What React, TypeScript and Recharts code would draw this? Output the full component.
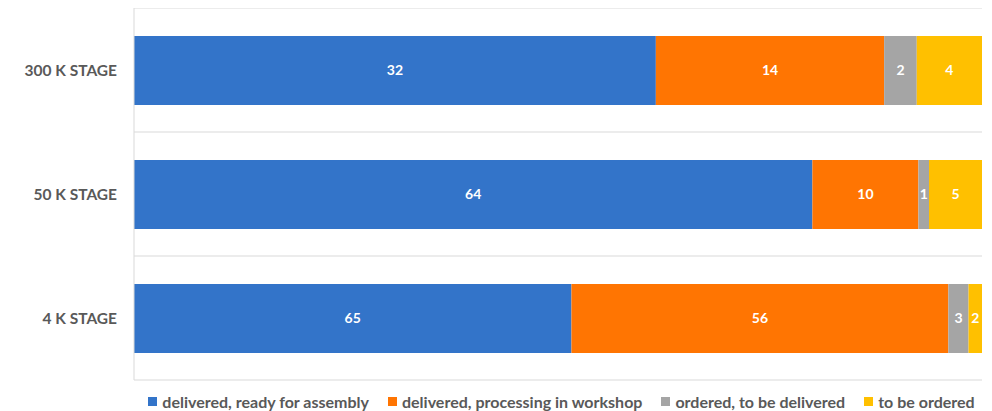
import React from "react";
import { BarChart, Bar, XAxis, YAxis, CartesianGrid, Legend, LabelList } from "recharts";

const categories = ["300 K STAGE", "50 K STAGE", "4 K STAGE"];
const readyForAssembly = [32, 64, 65];
const processingInWorkshop = [14, 10, 56];
const toBeDelivered = [2, 1, 3];
const toBeOrdered = [4, 5, 2];

const seriesNames = [
  "delivered, ready for assembly",
  "delivered, processing in workshop",
  "ordered, to be delivered",
  "to be ordered",
];
const colors = ["#3374C9", "#FF7502", "#A5A5A5", "#FFC000"];

const data = categories.map((c, i) => ({
  name: c,
  a: readyForAssembly[i],
  b: processingInWorkshop[i],
  c: toBeDelivered[i],
  d: toBeOrdered[i],
}));

const FONT = "Lato, 'Open Sans', sans-serif";

const renderLegend = () => (
  <div style={{ display: "flex", justifyContent: "center", gap: 19, fontFamily: FONT, fontWeight: 700, fontSize: 16, color: "#595959", paddingLeft: 131 }}>
    {seriesNames.map((n, i) => (
      <div key={n} style={{ display: "flex", alignItems: "center" }}>
        <span style={{ display: "inline-block", width: 9, height: 9, background: colors[i], marginRight: 5 }} />
        <span>{n}</span>
      </div>
    ))}
  </div>
);

export default function App() {
  const keys = ["a", "b", "c", "d"];
  return (
    <div style={{ marginLeft: -8, marginTop: -8 }}>
      <BarChart
        width={992}
        height={411}
        data={data}
        layout="vertical"
        stackOffset="expand"
        margin={{ top: 8, right: 10, left: 0, bottom: 11 }}
      >
        <CartesianGrid
          vertical={false}
          stroke="#D9D9D9"
          horizontalCoordinatesGenerator={({ offset }: any) => {
            const n = categories.length;
            return Array.from({ length: n + 1 }, (_, i) => offset.top + (offset.height * i) / n);
          }}
        />
        <XAxis type="number" hide domain={[0, 1]} />
        <YAxis
          type="category"
          dataKey="name"
          width={134}
          axisLine={{ stroke: "#D9D9D9" }}
          tickLine={false}
          tickMargin={11}
          tick={{ fill: "#595959", fontFamily: FONT, fontWeight: 700, fontSize: 15.5 }}
        />
        <Legend verticalAlign="bottom" height={20} content={renderLegend} wrapperStyle={{ top: 392, bottom: "auto", left: 0, width: 992 }} />
        {keys.map((k, i) => (
          <Bar key={k} dataKey={k} name={seriesNames[i]} stackId="s" fill={colors[i]} barSize={69} isAnimationActive={false}>
            <LabelList dataKey={k} position="center" fill="#FFFFFF" style={{ fontFamily: FONT, fontWeight: 700, fontSize: 14 }} />
          </Bar>
        ))}
      </BarChart>
    </div>
  );
}
